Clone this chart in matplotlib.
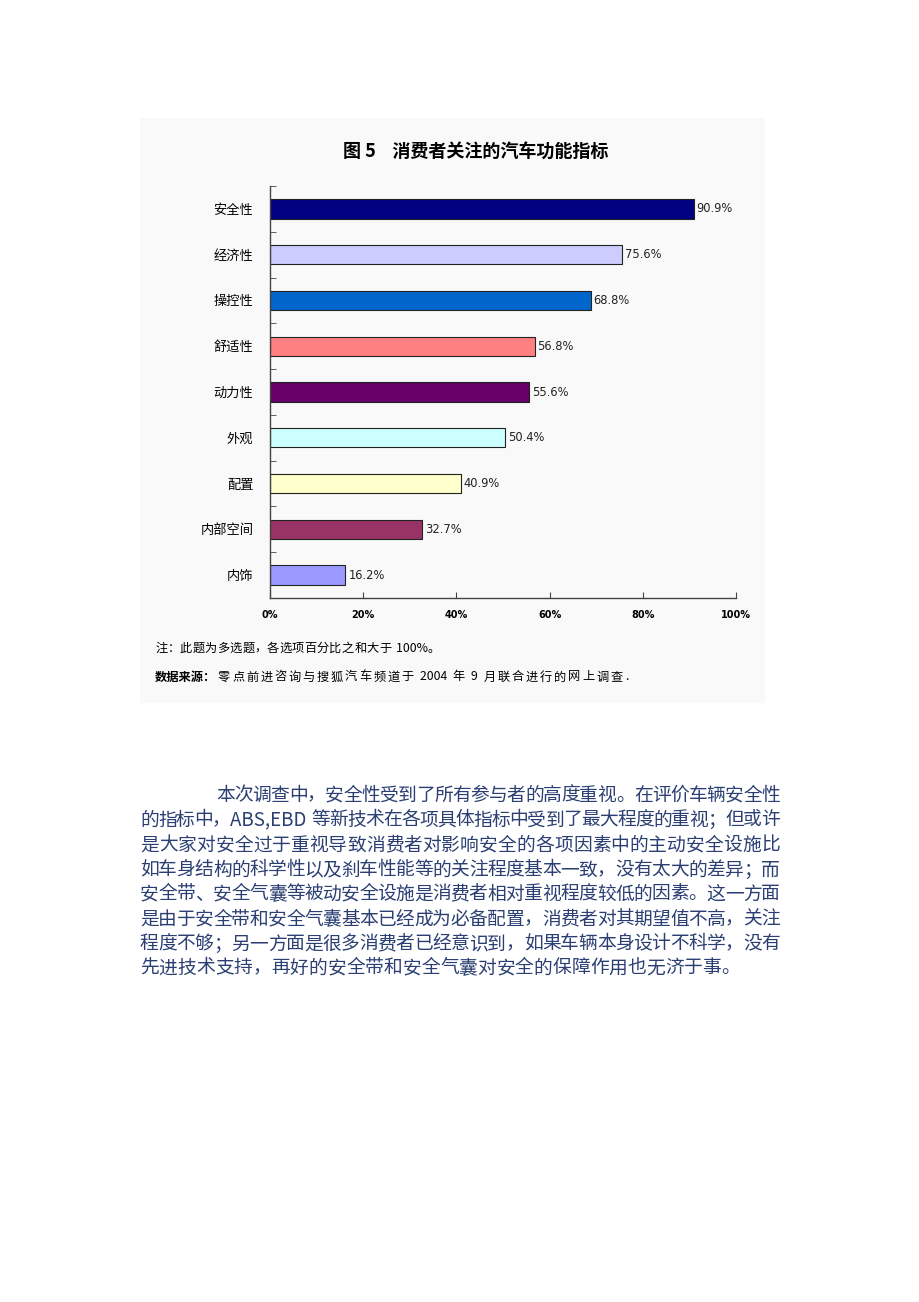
import matplotlib
matplotlib.use('Agg')
import matplotlib.pyplot as plt
from matplotlib.patches import Rectangle

plt.rcParams['font.family'] = ['Noto Sans CJK SC', 'DejaVu Sans']

# data
categories = ['安全性', '经济性', '操控性', '舒适性', '动力性', '外观', '配置', '内部空间', '内饰']
values = [90.9, 75.6, 68.8, 56.8, 55.6, 50.4, 40.9, 32.7, 16.2]
bar_colors = ['#000080', '#CCCCFF', '#0066CC', '#FF8080', '#660066',
              '#CCFFFF', '#FFFFCC', '#993366', '#9999FF']
xticks = [0, 20, 40, 60, 80, 100]
xticklabels = ['0%', '20%', '40%', '60%', '80%', '100%']

title = '图 5    消费者关注的汽车功能指标'
note = '注：此题为多选题，各选项百分比之和大于 100%。'
source_head = '数据来源：'
source_body = '零点前进咨询与搜狐汽车频道于 2004 年 9 月联合进行的网上调查.'

paragraph = [
    '本次调查中，安全性受到了所有参与者的高度重视。在评价车辆安全性',
    '的指标中，ABS,EBD 等新技术在各项具体指标中受到了最大程度的重视；但或许',
    '是大家对安全过于重视导致消费者对影响安全的各项因素中的主动安全设施比',
    '如车身结构的科学性以及刹车性能等的关注程度基本一致，没有太大的差异；而',
    '安全带、安全气囊等被动安全设施是消费者相对重视程度较低的因素。这一方面',
    '是由于安全带和安全气囊基本已经成为必备配置，消费者对其期望值不高，关注',
    '程度不够；另一方面是很多消费者已经意识到，如果车辆本身设计不科学，没有',
    '先进技术支持，再好的安全带和安全气囊对安全的保障作用也无济于事。',
]

W, H = 920, 1302
fig = plt.figure(figsize=(W / 100, H / 100), dpi=100)
fig.patch.set_facecolor('white')
renderer = fig.canvas.get_renderer()

def fx(px):
    return px / W

def fy(py):
    return 1 - py / H

def tokens_of(line):
    # each CJK char is a token, runs of ascii (spaces included) stay together
    toks = []
    buf = ''
    for ch in line:
        if ord(ch) < 128:
            buf += ch
        else:
            if buf:
                toks.append(buf)
                buf = ''
            toks.append(ch)
    if buf:
        toks.append(buf)
    return toks

def spread_text(line, x0, x1, y, extra=None, **kw):
    # lay tokens out one by one so the line fills x0..x1 (or uses a fixed extra gap)
    toks = tokens_of(line)
    arts = []
    widths = []
    for tk in toks:
        a = fig.text(0, fy(y), tk.replace(' ', '\u2004'), ha='left', va='center', **kw)
        arts.append(a)
        widths.append(a.get_window_extent(renderer).width)
    if extra is None:
        gap = (x1 - x0 - sum(widths)) / (len(toks) - 1)
    else:
        gap = extra
    x = x0
    for a, w in zip(arts, widths):
        a.set_x(fx(x))
        x += w + gap

# light panel behind the chart
fig.patches.append(Rectangle((fx(140), fy(703)), fx(765) - fx(140), fy(118) - fy(703),
                             transform=fig.transFigure, facecolor='#F9F9F9',
                             edgecolor='none', zorder=-10))

ax = fig.add_axes([fx(270), fy(598), fx(736) - fx(270), fy(186) - fy(598)])
ax.set_facecolor('none')
ypos = list(range(len(categories)))
ax.barh(ypos, values, height=0.42, color=bar_colors, edgecolor='#222222', linewidth=0.8)
ax.set_ylim(len(categories) - 0.5, -0.5)
ax.set_xlim(0, 100)

for y, v in zip(ypos, values):
    ax.text(v + 0.6, y, f'{v:.1f}%', va='center', ha='left', fontsize=8.3,
            family='DejaVu Sans', color='#222222')

ax.set_yticks(ypos)
ax.set_yticklabels(categories, fontsize=9.5)
ax.tick_params(axis='y', which='major', length=0, pad=12)
ax.set_yticks([i - 0.5 for i in range(len(categories) + 1)], minor=True)
ax.tick_params(axis='y', which='minor', direction='in', length=4, color='#444444')

ax.set_xticks(xticks)
ax.set_xticklabels(xticklabels, fontsize=7, fontweight='bold', family='DejaVu Sans')
ax.tick_params(axis='x', direction='in', length=4, pad=9, color='#444444')

for s in ['top', 'right']:
    ax.spines[s].set_visible(False)
for s in ['left', 'bottom']:
    ax.spines[s].set_color('#444444')
    ax.spines[s].set_linewidth(1.0)

fig.text(fx(476), fy(151), title, ha='center', va='center', fontsize=13, fontweight='bold')
spread_text(note, 155, 440, 648, fontsize=8.8)
fig.text(fx(155), fy(677), source_head, ha='left', va='center', fontsize=8.8, fontweight='bold')
spread_text(source_body, 218, 628, 677, fontsize=8.8)

# paragraph, justified between x=140 and x=780 like the page
para_color = '#2B3F73'
para_size = 13.5
line_y = [795, 820, 845, 870, 894, 919, 944, 968]
for i, (line, y) in enumerate(zip(paragraph, line_y)):
    x0 = 216 if i == 0 else 140
    last = i == len(paragraph) - 1
    spread_text(line, x0, 780, y, extra=0.0 if last else None,
                fontsize=para_size, color=para_color)

fig.savefig('out.png', dpi=100)
